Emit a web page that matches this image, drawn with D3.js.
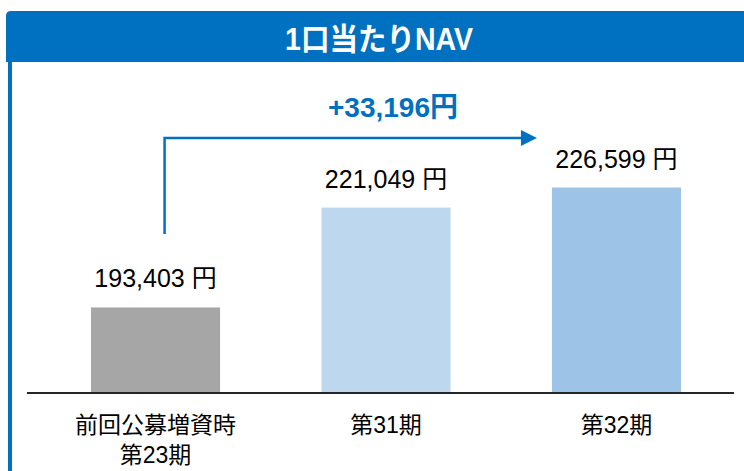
<!DOCTYPE html>
<html>
<head>
<meta charset="utf-8">
<script src="https://cdn.jsdelivr.net/npm/d3@7"></script>
<style>
  body { margin: 0; background: #fff; }
  text { font-family: "Liberation Sans", "Noto Sans CJK JP", sans-serif; }
</style>
</head>
<body>
<div id="chart"></div>
<script>
// data
var categories = ['前回公募増資時\n第23期', '第31期', '第32期']
var navValues = [193403, 221049, 226599]
var barColors = ['#a6a6a6', '#bdd7ee', '#9dc3e6']
var titleText = '1口当たりNAV'
var diffText = '+33,196円'

var W = 744, H = 471
var blue = '#0070c0'

var svg = d3.select('#chart').append('svg')
    .attr('width', W)
    .attr('height', H)

// header band + left border
svg.append('path')
  .attr('d', 'M6,62 L6,16 Q6,11 11,11 L744,11 L744,62 Z')
  .attr('fill', blue)
svg.append('rect')
  .attr('x', 8).attr('y', 60)
  .attr('width', 4).attr('height', H - 60)
  .attr('fill', blue)

// title, slightly condensed
svg.append('text')
  .attr('transform', 'translate(379,50) scale(0.92,1)')
  .attr('text-anchor', 'middle')
  .attr('fill', '#fff')
  .attr('font-size', 31)
  .attr('font-weight', 'bold')
  .text(titleText)

// scales
var x = d3.scaleBand()
    .domain(categories)
    .range([38, 734])
    .paddingInner(0.44)
    .paddingOuter(0.23)

var y = d3.scaleLinear()
    .domain([170000, 250000])
    .range([392, 103])

// bars
svg.selectAll('.bar')
  .data(navValues)
  .enter().append('rect')
  .attr('x', function(d, i) { return x(categories[i]) })
  .attr('y', function(d) { return y(d) })
  .attr('width', x.bandwidth())
  .attr('height', function(d) { return y.range()[0] - y(d) })
  .attr('fill', function(d, i) { return barColors[i] })

// baseline
svg.append('line')
  .attr('x1', 27).attr('x2', 734)
  .attr('y1', 393).attr('y2', 393)
  .attr('stroke', '#262626')
  .attr('stroke-width', 2)

// value labels
svg.selectAll('.vlab')
  .data(navValues)
  .enter().append('text')
  .attr('x', function(d, i) { return x(categories[i]) + x.bandwidth() / 2 })
  .attr('y', function(d) { return y(d) - 20 })
  .attr('text-anchor', 'middle')
  .attr('font-size', 25)
  .attr('fill', '#000')
  .text(function(d) { return d3.format(',')(d) + ' 円' })

// category labels
categories.forEach(function(c, i) {
  var lines = c.split('\n')
  lines.forEach(function(l, j) {
    svg.append('text')
      .attr('x', x(c) + x.bandwidth() / 2)
      .attr('y', 433 + j * 30)
      .attr('text-anchor', 'middle')
      .attr('font-size', 23)
      .attr('fill', '#000')
      .text(l)
  })
})

// arrow from first bar to last bar
var ax = x(categories[0]) + x.bandwidth() * 0.57
var ay = 138
var tip = x(categories[2]) - 15
svg.append('path')
  .attr('d', 'M' + ax + ',' + 234 + ' L' + ax + ',' + ay + ' L' + (tip - 14) + ',' + ay)
  .attr('fill', 'none')
  .attr('stroke', blue)
  .attr('stroke-width', 2.5)
svg.append('path')
  .attr('d', 'M' + (tip - 16) + ',' + (ay - 8) + ' L' + tip + ',' + ay + ' L' + (tip - 16) + ',' + (ay + 8) + ' Z')
  .attr('fill', blue)

svg.append('text')
  .attr('x', 393).attr('y', 117)
  .attr('text-anchor', 'middle')
  .attr('font-size', 28)
  .attr('font-weight', 'bold')
  .attr('fill', blue)
  .text(diffText)
</script>
</body>
</html>
